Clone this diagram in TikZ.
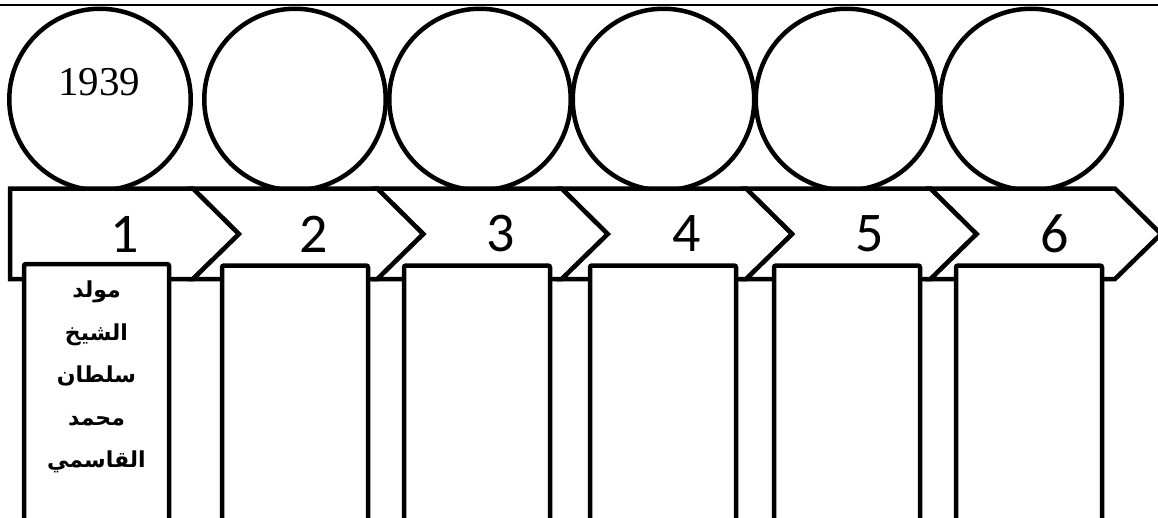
\documentclass[tikz,border=0pt]{standalone}
\usepackage{fontspec}
\setmainfont{Liberation Serif}
\newfontfamily\numfont{Carlito}
\newfontfamily\arabicfont[Script=Arabic]{DejaVu Sans}
\TeXXeTstate=1
\begin{document}
\begin{tikzpicture}[x=1pt,y=-1pt,line width=4.5pt,
  circ/.style={draw,circle,minimum size=181.5pt,inner sep=0pt},
  chev/.style={draw,fill=white,line join=miter},
  boxst/.style={draw,fill=white,rounded corners=2pt},
  numlbl/.style={font=\numfont\fontsize{56}{60}\selectfont,inner sep=0pt},
  yearlbl/.style={font=\fontsize{41}{45}\selectfont,inner sep=0pt},
  artxt/.style={font=\arabicfont\bfseries\fontsize{22}{42.5}\selectfont,align=center,inner sep=0pt}]
\useasboundingbox (0,0) rectangle (1158,517);
\clip (0,0) rectangle (1158,517);
% top rule
\coordinate (rl) at (0,5);
\coordinate (rr) at (1158,5);
\draw[line width=2pt] (rl) -- (rr);
% circles
\node[circ] (c1) at (100,99.5) {};
\node[circ] (c2) at (295,99.5) {};
\node[circ] (c3) at (480,99.5) {};
\node[circ] (c4) at (663.5,99.5) {};
\node[circ] (c5) at (846.5,99.5) {};
\node[circ] (c6) at (1031,99.5) {};
\node[yearlbl] (y1) at (99,82.5) {1939};
% chevrons
\draw[chev] (10,188.5) -- (193,188.5) -- (239,234) -- (193,279) -- (10,279) -- cycle;
\foreach \k in {1,...,5}{
  \pgfmathsetmacro{\L}{193+184.4*(\k-1)}
  \pgfmathsetmacro{\R}{193+184.4*\k}
  \draw[chev] (\L,188.5) -- (\R,188.5) -- ({\R+46},234) -- (\R,279) -- (\L,279) -- ({\L+46},234) -- cycle;
}
% numbers
\foreach \k/\x in {1/125,2/314,3/501,4/687,5/870,6/1055}{
  \node[numlbl] (n\k) at (\x,234) {\k};
}
% boxes
\draw[boxst] (24,264) rectangle (169,540);
\draw[boxst] (222,265.5) rectangle (368,540);
\draw[boxst] (404,265.5) rectangle (550,540);
\draw[boxst] (590,265.5) rectangle (736,540);
\draw[boxst] (774,265.5) rectangle (920,540);
\draw[boxst] (956,265.5) rectangle (1102,540);
\node[artxt] (t1) at (96.5,377) {\beginR مولد\endR\\\beginR الشيخ\endR\\\beginR سلطان\endR\\\beginR محمد\endR\\\beginR القاسمي\endR};
\end{tikzpicture}
\end{document}
